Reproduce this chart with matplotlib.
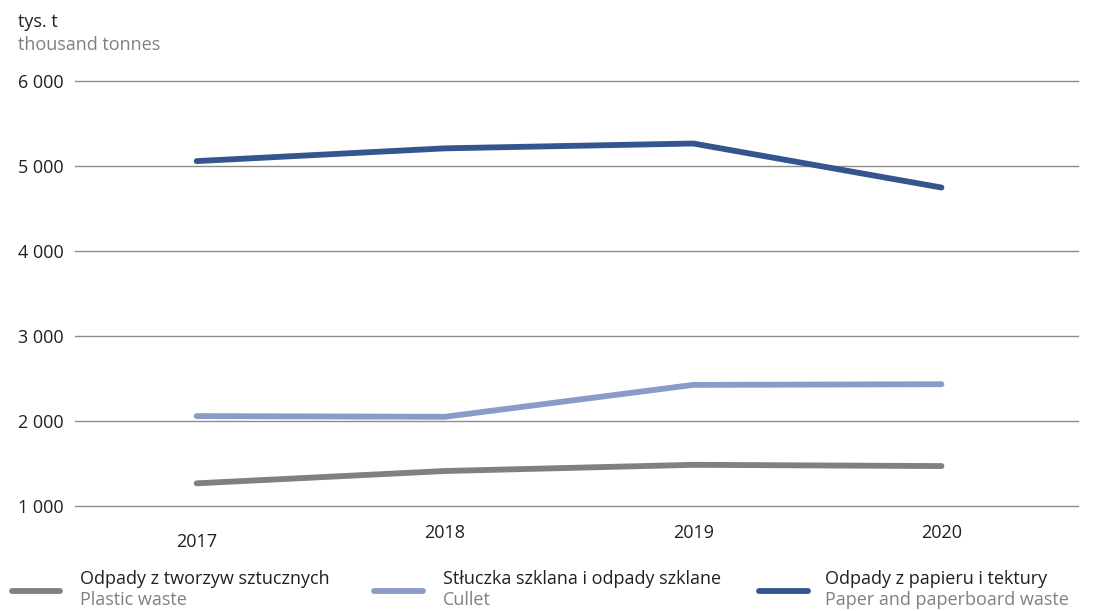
import matplotlib.pyplot as plt
from matplotlib.lines import Line2D

years = [2017, 2018, 2019, 2020]
plastic = [1267, 1412, 1485, 1470]
cullet = [2058, 2050, 2425, 2433]
paper = [5058, 5208, 5265, 4747]

labels_pl = ['Odpady z tworzyw sztucznych', 'Stłuczka szklana i odpady szklane', 'Odpady z papieru i tektury']
labels_en = ['Plastic waste', 'Cullet', 'Paper and paperboard waste']
colors = ['#808083', '#8b9bc8', '#34568f']
yticks = [1000, 2000, 3000, 4000, 5000, 6000]

plt.rcParams['font.family'] = ['Open Sans', 'DejaVu Sans']
fs = 13

fig = plt.figure(figsize=(10.95, 6.11), dpi=100)
ax = fig.add_axes([0.0685, 0.1718, 0.916, 0.6956])

for vals, c in zip([plastic, cullet, paper], colors):
    ax.plot(years, vals, color=c, lw=4.2, solid_capstyle='round', solid_joinstyle='round', zorder=3)

ax.set_xlim(2017 - 0.49, 2020 + 0.55)
ax.set_ylim(1000, 6000)
ax.set_yticks(yticks)
ax.set_yticklabels([f'{v:,}'.replace(',', ' ') for v in yticks])
ax.set_xticks(years)
ax.set_xticklabels([str(y) for y in years])
ax.tick_params(axis='y', length=0, pad=8, labelsize=fs, labelcolor='#231f20')
ax.tick_params(axis='x', length=0, pad=13, labelsize=fs, labelcolor='#231f20')
# first year label sits a bit lower in the original
ax.get_xticklabels()[0].set_y(-0.02)
ax.grid(axis='y', color='#8c8c8c', lw=1, clip_on=False)
ax.set_axisbelow(True)
for s in ax.spines.values():
    s.set_visible(False)

fig.text(18 / 1095, 1 - 22 / 611, 'tys. t', fontsize=fs, color='#231f20', va='center')
fig.text(18 / 1095, 1 - 45 / 611, 'thousand tonnes', fontsize=fs, color='#808083', va='center')

# legend drawn by hand: line swatch + two-line bilingual label
handle_x = [(12, 60), (374, 423), (759, 808)]
text_x = [80, 443, 825]
for (x0, x1), tx, lp, le, c in zip(handle_x, text_x, labels_pl, labels_en, colors):
    fig.add_artist(Line2D([x0 / 1095, x1 / 1095], [1 - 591 / 611] * 2, color=c, lw=4.2,
                          solid_capstyle='round', transform=fig.transFigure))
    fig.text(tx / 1095, 1 - 579 / 611, lp, fontsize=fs, color='#231f20', va='center')
    fig.text(tx / 1095, 1 - 600 / 611, le, fontsize=fs, color='#808083', va='center')

fig.savefig('out.png', dpi=100)
